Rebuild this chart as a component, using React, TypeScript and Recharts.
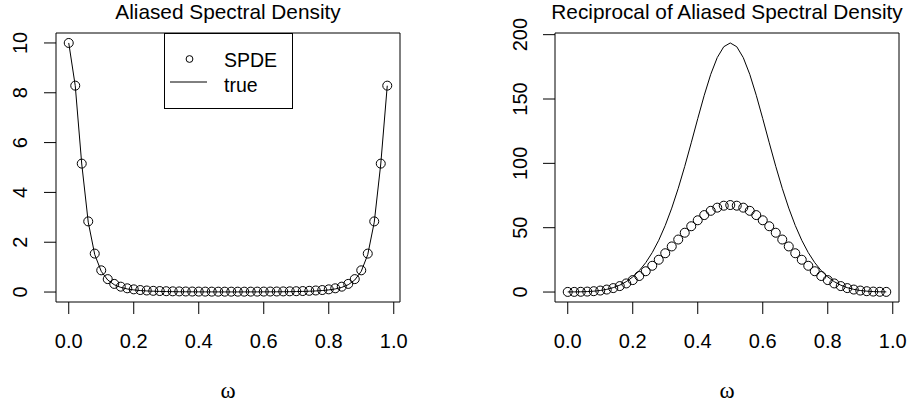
import React from 'react';
import { ComposedChart, Line, Scatter, XAxis, YAxis, ReferenceArea, Legend } from 'recharts';

// frequencies on the 0.02 grid
const omega = [
  0, 0.02, 0.04, 0.06, 0.08, 0.1, 0.12, 0.14, 0.16, 0.18, 0.2, 0.22, 0.24, 0.26, 0.28, 0.3, 0.32,
  0.34, 0.36, 0.38, 0.4, 0.42, 0.44, 0.46, 0.48, 0.5, 0.52, 0.54, 0.56, 0.58, 0.6, 0.62, 0.64, 0.66,
  0.68, 0.7, 0.72, 0.74, 0.76, 0.78, 0.8, 0.82, 0.84, 0.86, 0.88, 0.9, 0.92, 0.94, 0.96, 0.98,
];

const spdeDensity = [
  10, 8.286, 5.156, 2.836, 1.543, 0.872, 0.519, 0.327, 0.216, 0.15, 0.108, 0.08, 0.062, 0.049, 0.04,
  0.033, 0.028, 0.025, 0.022, 0.02, 0.018, 0.017, 0.016, 0.015, 0.015, 0.015, 0.015, 0.015, 0.016,
  0.017, 0.018, 0.02, 0.022, 0.025, 0.028, 0.033, 0.04, 0.049, 0.062, 0.08, 0.108, 0.15, 0.216, 0.327,
  0.519, 0.872, 1.543, 2.836, 5.156, 8.286,
];

const trueDensity = [
  10, 8.284, 5.14, 2.805, 1.503, 0.832, 0.483, 0.294, 0.187, 0.124, 0.085, 0.06, 0.044, 0.033, 0.025,
  0.019, 0.015, 0.012, 0.01, 0.0086, 0.0074, 0.0065, 0.0059, 0.0055, 0.0052, 0.0052, 0.0052, 0.0055,
  0.0059, 0.0065, 0.0074, 0.0086, 0.01, 0.012, 0.015, 0.019, 0.025, 0.033, 0.044, 0.06, 0.085, 0.124,
  0.187, 0.294, 0.483, 0.832, 1.503, 2.805, 5.14, 8.284,
];

const spdeReciprocal = [
  0.1, 0.121, 0.194, 0.353, 0.648, 1.147, 1.925, 3.061, 4.627, 6.688, 9.288, 12.45, 16.17, 20.41,
  25.1, 30.15, 35.43, 40.8, 46.09, 51.13, 55.76, 59.8, 63.11, 65.57, 67.09, 67.6, 67.09, 65.57, 63.11,
  59.8, 55.76, 51.13, 46.09, 40.8, 35.43, 30.15, 25.1, 20.41, 16.17, 12.45, 9.288, 6.688, 4.627, 3.061,
  1.925, 1.147, 0.648, 0.353, 0.194, 0.121,
];

const trueReciprocal = [
  0.1, 0.121, 0.195, 0.357, 0.665, 1.202, 2.072, 3.403, 5.34, 8.059, 11.75, 16.6, 22.83, 30.65, 40.23,
  51.73, 65.2, 80.6, 97.67, 115.96, 134.72, 152.9, 169.19, 182.19, 190.62, 193.55, 190.62, 182.19,
  169.19, 152.9, 134.72, 115.96, 97.67, 80.6, 65.2, 51.73, 40.23, 30.65, 22.83, 16.6, 11.75, 8.059,
  5.34, 3.403, 2.072, 1.202, 0.665, 0.357, 0.195, 0.121,
];

const xTicks = [0, 0.2, 0.4, 0.6, 0.8, 1];
const densityTicks = [0, 2, 4, 6, 8, 10];
const reciprocalTicks = [0, 50, 100, 150, 200];

const FONT = '"Liberation Sans", Arial, Helvetica, sans-serif';
const SERIF = '"Liberation Serif", "Times New Roman", serif';
const X_DOMAIN: [number, number] = [-0.0392, 1.0192];

const toRows = (ys: number[]) => omega.map((x, i) => ({ x, y: ys[i] }));

const Circle = (p: any) => (
  <circle cx={p.cx} cy={p.cy} r={4.5} fill="none" stroke="#000" strokeWidth={1} />
);

const LegendBox = () => (
  <svg width={129} height={76} style={{ display: 'block' }}>
    <rect x={0.5} y={0.5} width={128} height={75} fill="#fff" stroke="#000" strokeWidth={1} />
    <circle cx={25.5} cy={26} r={3.4} fill="none" stroke="#000" strokeWidth={1} />
    <line x1={6} y1={49} x2={43} y2={49} stroke="#000" strokeWidth={1} />
    <text x={60} y={33.5} fontFamily={FONT} fontSize={19.5} fill="#000">SPDE</text>
    <text x={60} y={58.5} fontFamily={FONT} fontSize={19.5} fill="#000">true</text>
  </svg>
);

type PanelProps = {
  left: number;
  marginLeft: number;
  marginRight: number;
  points: number[];
  curve: number[];
  yDomain: [number, number];
  yTicks: number[];
  yLabelX: number;
  legend?: boolean;
};

const Panel = ({ left, marginLeft, marginRight, points, curve, yDomain, yTicks, yLabelX, legend }: PanelProps) => {
  const xTick = (p: any) => (
    <text x={p.x} y={348} textAnchor="middle" fontFamily={FONT} fontSize={20} fill="#000">
      {Number(p.payload.value).toFixed(1)}
    </text>
  );
  const yTick = (p: any) => (
    <text
      x={0}
      y={0}
      transform={`translate(${yLabelX}, ${p.y}) rotate(-90)`}
      textAnchor="middle"
      fontFamily={FONT}
      fontSize={20}
      fill="#000"
    >
      {p.payload.value}
    </text>
  );
  return (
    <div style={{ position: 'absolute', left, top: 0 }}>
      <ComposedChart
        width={455}
        height={406}
        margin={{ top: 33, right: marginRight, bottom: 0, left: marginLeft }}
      >
        <XAxis
          type="number"
          dataKey="x"
          domain={X_DOMAIN}
          ticks={xTicks}
          allowDataOverflow
          height={104}
          axisLine={false}
          tickSize={12}
          tickLine={{ stroke: '#000' }}
          tick={xTick}
        />
        <YAxis
          type="number"
          dataKey="y"
          domain={yDomain}
          ticks={yTicks}
          allowDataOverflow
          width={56}
          axisLine={false}
          tickSize={12}
          tickLine={{ stroke: '#000' }}
          tick={yTick}
        />
        <ReferenceArea
          x1={X_DOMAIN[0]}
          x2={X_DOMAIN[1]}
          y1={yDomain[0]}
          y2={yDomain[1]}
          fill="none"
          fillOpacity={0}
          stroke="#000"
          strokeWidth={1}
          ifOverflow="visible"
        />
        <Line
          data={toRows(curve)}
          dataKey="y"
          type="linear"
          stroke="#000"
          strokeWidth={1}
          dot={false}
          isAnimationActive={false}
          name="true"
        />
        <Scatter
          data={toRows(points)}
          dataKey="y"
          shape={Circle}
          isAnimationActive={false}
          name="SPDE"
        />
        {legend && (
          <Legend
            layout="horizontal"
            verticalAlign="middle"
            align="center"
            content={() => <LegendBox />}
            wrapperStyle={{ position: 'absolute', left: 164, top: 33, width: 129, height: 76 }}
          />
        )}
      </ComposedChart>
    </div>
  );
};

export default function App() {
  return (
    <div
      style={{
        position: 'absolute',
        left: 0,
        top: 0,
        width: 910,
        height: 406,
        background: '#fff',
        overflow: 'hidden',
      }}
    >
      <Panel
        left={0}
        marginLeft={0}
        marginRight={55}
        points={spdeDensity}
        curve={trueDensity}
        yDomain={[-0.4, 10.4]}
        yTicks={densityTicks}
        yLabelX={27}
        legend
      />
      <Panel
        left={455}
        marginLeft={44}
        marginRight={11}
        points={spdeReciprocal}
        curve={trueReciprocal}
        yDomain={[-7.742, 201.29]}
        yTicks={reciprocalTicks}
        yLabelX={72}
      />
      <svg
        width={910}
        height={406}
        style={{ position: 'absolute', left: 0, top: 0, pointerEvents: 'none' }}
      >
        <text x={228} y={19} textAnchor="middle" fontFamily={FONT} fontSize={20.8} fill="#000">
          Aliased Spectral Density
        </text>
        <text x={727} y={19} textAnchor="middle" fontFamily={FONT} fontSize={20.8} fill="#000">
          Reciprocal of Aliased Spectral Density
        </text>
        <text x={228} y={398} textAnchor="middle" fontFamily={SERIF} fontSize={23} fill="#000">
          ω
        </text>
        <text x={727} y={398} textAnchor="middle" fontFamily={SERIF} fontSize={23} fill="#000">
          ω
        </text>
      </svg>
    </div>
  );
}
